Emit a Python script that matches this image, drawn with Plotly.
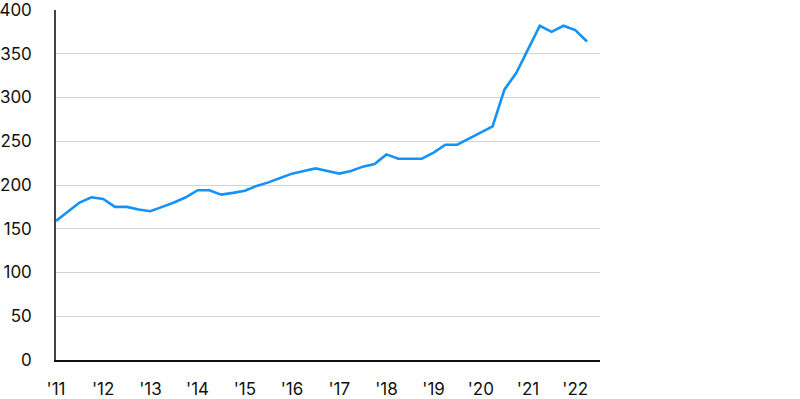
import plotly.graph_objects as go

start_year = 2011
values = [159, 170, 180, 186, 184, 175, 175, 172, 170, 175, 180, 186,
          194, 194, 189, 191, 193.5, 199, 203, 208, 213, 216, 219, 216,
          213, 216, 221, 224, 235, 230, 230, 230, 237, 246, 246, 253,
          260, 267, 309, 328, 355, 382, 375, 382, 377, 364]
tick_years = list(range(2011, 2023))
tick_labels = ["'11", "'12", "'13", "'14", "'15", "'16", "'17", "'18", "'19", "'20", "'21", "'22"]
y_ticks = [0, 50, 100, 150, 200, 250, 300, 350, 400]

x = [start_year + 0.25 * i for i in range(len(values))]

fig = go.Figure()
fig.add_trace(go.Scatter(x=x, y=values, mode="lines",
                         line=dict(color="#1592f7", width=2.6), hoverinfo="skip"))

fig.update_layout(
    width=800, height=399,
    margin=dict(l=56, r=200, t=10, b=39),
    plot_bgcolor="white", paper_bgcolor="white",
    showlegend=False,
    font=dict(family="Inter, Liberation Sans, sans-serif", size=17, color="#111111"),
)
fig.update_xaxes(
    range=[2011, 2022.525],
    tickmode="array", tickvals=tick_years, ticktext=tick_labels,
    showgrid=False, zeroline=False,
    showline=True, linecolor="#111111", linewidth=1.5,
    ticks="", ticklabelstandoff=13, automargin=False,
    ticklabeloverflow="allow",
    tickfont=dict(size=17),
)
fig.update_yaxes(
    range=[0, 400],
    tickmode="array", tickvals=y_ticks,
    showgrid=True, gridcolor="#d2d2d2", gridwidth=1.3,
    zeroline=False,
    showline=True, linecolor="#444444", linewidth=1.5,
    ticks="", ticklabelstandoff=19, automargin=False,
    ticklabeloverflow="allow",
    tickfont=dict(size=17),
)

fig.write_html("out.html", config={"displayModeBar": False},
               post_script="document.body.style.margin='0';document.body.style.overflow='hidden';")
